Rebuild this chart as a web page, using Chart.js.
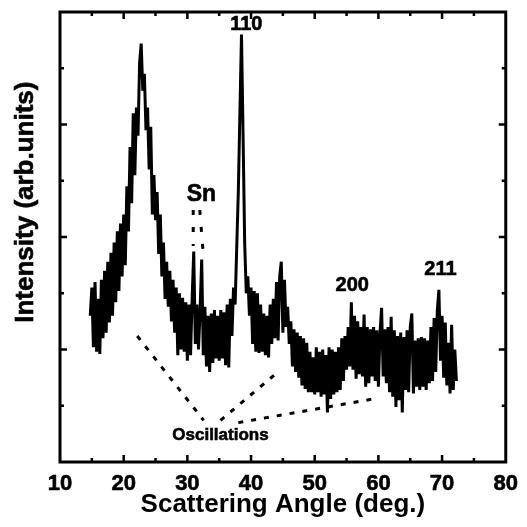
<!DOCTYPE html>
<html>
<head>
<meta charset="utf-8">
<script src="https://cdn.jsdelivr.net/npm/chart.js@4.4.0/dist/chart.umd.min.js"></script>
<style>
  html, body { margin: 0; padding: 0; background: #fff; }
  #wrap { width: 527px; height: 527px; }
</style>
</head>
<body>
<div id="wrap"><canvas id="xrd"></canvas></div>
<script>
// scattering angle (deg.), one row per degree
const angles = [
  14.75,
  15, 15.25, 15.5, 15.75,
  16, 16.25, 16.5, 16.75,
  17, 17.25, 17.5, 17.75,
  18, 18.25, 18.5, 18.75,
  19, 19.25, 19.5, 19.75,
  20, 20.25, 20.5, 20.75,
  21, 21.25, 21.5, 21.75,
  22, 22.25, 22.5, 22.75,
  23, 23.25, 23.5, 23.75,
  24, 24.25, 24.5, 24.75,
  25, 25.25, 25.5, 25.75,
  26, 26.25, 26.5, 26.75,
  27, 27.25, 27.5, 27.75,
  28, 28.25, 28.5, 28.75,
  29, 29.25, 29.5, 29.75,
  30, 30.25, 30.5, 30.75,
  31, 31.25, 31.5, 31.75,
  32, 32.25, 32.5, 32.75,
  33, 33.25, 33.5, 33.75,
  34, 34.25, 34.5, 34.75,
  35, 35.25, 35.5, 35.75,
  36, 36.25, 36.5, 36.75,
  37, 37.25, 37.5, 37.75,
  38, 38.25, 38.5, 38.75,
  39, 39.25, 39.5, 39.75,
  40, 40.25, 40.5, 40.75,
  41, 41.25, 41.5, 41.75,
  42, 42.25, 42.5, 42.75,
  43, 43.25, 43.5, 43.75,
  44, 44.25, 44.5, 44.75,
  45, 45.25, 45.5, 45.75,
  46, 46.25, 46.5, 46.75,
  47, 47.25, 47.5, 47.75,
  48, 48.25, 48.5, 48.75,
  49, 49.25, 49.5, 49.75,
  50, 50.25, 50.5, 50.75,
  51, 51.25, 51.5, 51.75,
  52, 52.25, 52.5, 52.75,
  53, 53.25, 53.5, 53.75,
  54, 54.25, 54.5, 54.75,
  55, 55.25, 55.5, 55.75,
  56, 56.25, 56.5, 56.75,
  57, 57.25, 57.5, 57.75,
  58, 58.25, 58.5, 58.75,
  59, 59.25, 59.5, 59.75,
  60, 60.25, 60.5, 60.75,
  61, 61.25, 61.5, 61.75,
  62, 62.25, 62.5, 62.75,
  63, 63.25, 63.5, 63.75,
  64, 64.25, 64.5, 64.75,
  65, 65.25, 65.5, 65.75,
  66, 66.25, 66.5, 66.75,
  67, 67.25, 67.5, 67.75,
  68, 68.25, 68.5, 68.75,
  69, 69.25, 69.5, 69.75,
  70, 70.25, 70.5, 70.75,
  71, 71.25, 71.5, 71.75,
  72, 72.25
];

// intensity (arb. units), same rows as angles
const intensity = [
  1.30,
  1.55, 1.02, 1.60, 0.98,
  1.45, 0.96, 1.62, 1.10,
  1.70, 1.15, 1.78, 1.24,
  1.86, 1.30, 1.95, 1.42,
  2.05, 1.52, 2.12, 1.65,
  2.20, 1.75, 2.45, 2.05,
  2.80, 2.30, 3.10, 2.55,
  3.15, 2.90, 3.55, 3.72,
  3.30, 3.45, 2.95, 3.15,
  2.60, 2.98, 2.20, 2.55,
  2.15, 2.40, 1.85, 2.20,
  1.65, 1.95, 1.45, 1.78,
  1.38, 1.70, 1.25, 1.62,
  1.15, 1.55, 0.95, 1.50,
  1.00, 1.46, 0.98, 1.42,
  0.90, 1.40, 0.95, 1.45,
  1.87, 1.05, 1.40, 1.00,
  1.35, 1.80, 0.95, 1.38,
  0.85, 1.30, 0.80, 1.32,
  0.88, 1.35, 0.92, 1.30,
  0.90, 1.35, 0.92, 1.33,
  0.86, 1.40, 0.84, 1.45,
  1.12, 1.55, 1.40, 1.90,
  2.40, 3.10, 3.80, 2.90,
  1.95, 1.50, 1.65, 1.30,
  1.55, 1.05, 1.52, 0.98,
  1.50, 0.97, 1.40, 0.98,
  1.32, 0.95, 1.30, 0.93,
  1.40, 1.05, 1.45, 1.10,
  1.60, 1.08, 1.65, 1.78,
  1.15, 1.62, 1.20, 1.38,
  1.05, 1.25, 0.85, 1.18,
  0.80, 1.15, 0.75, 1.12,
  0.68, 1.10, 0.65, 1.06,
  0.62, 0.98, 0.62, 0.93,
  0.60, 1.02, 0.62, 0.98,
  0.58, 1.00, 0.60, 0.95,
  0.44, 1.02, 0.56, 1.00,
  0.60, 0.98, 0.62, 1.02,
  0.64, 1.10, 0.72, 1.12,
  0.82, 1.20, 0.85, 1.42,
  0.82, 1.30, 0.74, 1.25,
  0.78, 1.20, 0.76, 1.31,
  0.67, 1.20, 0.70, 1.18,
  0.76, 1.20, 0.72, 1.17,
  0.67, 1.15, 1.37, 0.76,
  1.18, 0.70, 1.20, 0.62,
  1.29, 0.58, 1.17, 0.49,
  1.12, 0.55, 1.15, 0.44,
  1.11, 0.64, 1.17, 0.62,
  1.20, 1.32, 0.61, 1.08,
  0.67, 1.10, 0.64, 1.11,
  0.67, 1.10, 0.64, 1.08,
  0.70, 1.20, 0.72, 1.28,
  0.80, 1.35, 1.53, 0.90,
  1.30, 0.75, 1.24, 0.68,
  1.06, 0.61, 1.22, 0.64,
  1.00, 0.72
];

// guide lines drawn on the plot (data units)
const snGuideA  = [{x: 30.92, y: 2.24}, {x: 30.92, y: 1.92}];
const snGuideB  = [{x: 31.95, y: 2.24}, {x: 32.45, y: 1.88}];
const oscGuide1 = [{x: 22.13, y: 1.12}, {x: 32.56, y: 0.37}];
const oscGuide2 = [{x: 35.20, y: 0.37}, {x: 44.22, y: 0.80}];
const oscGuide3 = [{x: 38.00, y: 0.35}, {x: 59.16, y: 0.56}];

// peak labels
const peakLabels = [
  {text: '110', x: 39.25, y: 3.89, size: 20},
  {text: 'Sn',  x: 32.20, y: 2.38, size: 23},
  {text: '200', x: 55.90, y: 1.57, size: 20},
  {text: '211', x: 69.75, y: 1.71, size: 20},
  {text: 'Oscillations', x: 35.20, y: 0.24, size: 17}
];

const xMajor = [20, 30, 40, 50, 60, 70];
const xMinor = [15, 25, 35, 45, 55, 65, 75];
const yMajor = [1, 2, 3];
const yMinor = [0.5, 1.5, 2.5, 3.5];

const FONT = 'Arial, "Liberation Sans", Helvetica, sans-serif';
Chart.defaults.color = '#000';
Chart.defaults.font.family = FONT;

const guide = (data, dash) => ({
  data, borderColor: '#000', borderWidth: 3, borderDash: dash,
  pointRadius: 0, fill: false, tension: 0, borderCapStyle: 'butt'
});

const framePlugin = {
  id: 'frame',
  afterDatasetsDraw(chart) {
    const {ctx, chartArea: a, scales: {x, y}} = chart;
    ctx.save();
    ctx.strokeStyle = '#000';
    ctx.lineWidth = 2.5;
    ctx.beginPath();
    const tickX = (v, len) => {
      const px = x.getPixelForValue(v);
      ctx.moveTo(px, a.bottom); ctx.lineTo(px, a.bottom - len);
      ctx.moveTo(px, a.top);    ctx.lineTo(px, a.top + len);
    };
    const tickY = (v, len) => {
      const py = y.getPixelForValue(v);
      ctx.moveTo(a.left, py);  ctx.lineTo(a.left + len, py);
      ctx.moveTo(a.right, py); ctx.lineTo(a.right - len, py);
    };
    xMajor.forEach(v => tickX(v, 7));
    xMinor.forEach(v => tickX(v, 4));
    yMajor.forEach(v => tickY(v, 7));
    yMinor.forEach(v => tickY(v, 4));
    ctx.stroke();
    ctx.lineWidth = 3;
    ctx.strokeRect(a.left, a.top, a.right - a.left, a.bottom - a.top);

    ctx.fillStyle = '#000';
    ctx.strokeStyle = '#000';
    ctx.lineWidth = 0.6;
    ctx.textAlign = 'center';
    ctx.textBaseline = 'middle';
    peakLabels.forEach(l => {
      ctx.font = 'bold ' + l.size + 'px ' + FONT;
      const px = x.getPixelForValue(l.x), py = y.getPixelForValue(l.y);
      ctx.fillText(l.text, px, py);
      ctx.strokeText(l.text, px, py);
    });

    // y-axis title
    ctx.font = 'bold 26px ' + FONT;
    ctx.translate(26, y.getPixelForValue(2.31));
    ctx.rotate(-Math.PI / 2);
    ctx.fillText('Intensity (arb.units)', 0, 0);
    ctx.strokeText('Intensity (arb.units)', 0, 0);
    ctx.restore();
  }
};

new Chart(document.getElementById('xrd'), {
  type: 'line',
  data: {
    datasets: [
      {
        data: angles.map((a, i) => ({x: a, y: intensity[i]})),
        borderColor: '#000',
        borderWidth: 3,
        pointRadius: 0,
        fill: false,
        tension: 0
      },
      guide(snGuideA, [5, 12]),
      guide(snGuideB, [5, 12]),
      guide(oscGuide1, [5, 8]),
      guide(oscGuide2, [5, 8]),
      guide(oscGuide3, [5, 8])
    ]
  },
  options: {
    responsive: true,
    maintainAspectRatio: false,
    animation: false,
    layout: { padding: { top: 12, right: 17, left: 0, bottom: 0 } },
    plugins: { legend: { display: false }, tooltip: { enabled: false } },
    scales: {
      x: {
        type: 'linear',
        min: 10, max: 80,
        grid: { display: false, drawTicks: false },
        border: { display: false },
        ticks: {
          stepSize: 10, padding: 9,
          font: { size: 22, weight: 'bold' },
          textStrokeColor: '#000', textStrokeWidth: 0.6
        },
        title: {
          display: true,
          text: 'Scattering Angle (deg.)',
          font: { size: 26, weight: 'bold' },
          padding: { top: 0, bottom: 7 }
        },
        afterFit(scale) { scale.height = 65; }
      },
      y: {
        min: 0, max: 4,
        grid: { display: false, drawTicks: false },
        border: { display: false },
        ticks: { display: false },
        afterFit(scale) { scale.width = 60; }
      }
    }
  },
  plugins: [framePlugin]
});
</script>
</body>
</html>
